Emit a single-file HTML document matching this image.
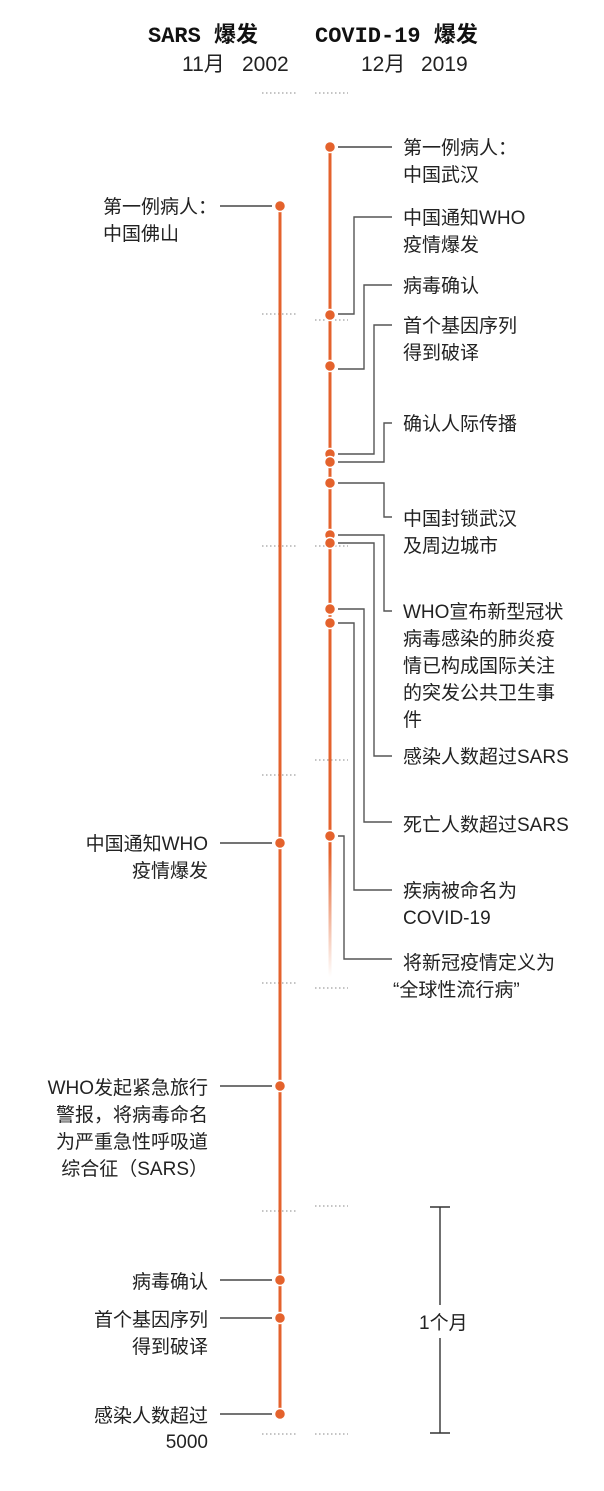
<!DOCTYPE html>
<html><head><meta charset="utf-8"><style>
html,body{margin:0;padding:0;background:#fff}
svg{display:block}
text{font-family:"Liberation Sans","Noto Sans CJK SC",sans-serif;font-size:19px;fill:#222}
.t{font-family:"Liberation Mono","Noto Sans CJK SC",monospace;font-weight:bold;font-size:22px;fill:#111}
.dt{font-size:21px}
.r{text-anchor:end}
.d{stroke:#888;stroke-width:1;stroke-dasharray:1.5 2.5}
.c{fill:none;stroke:#555;stroke-width:1.4}
</style></head><body>
<svg width="604" height="1491" viewBox="0 0 604 1491">
<defs><linearGradient id="fade" x1="0" y1="0" x2="0" y2="1">
<stop offset="0.85" stop-color="#e4622c"/><stop offset="1" stop-color="#e4622c" stop-opacity="0"/></linearGradient></defs>
<text class="t" x="148" y="42">SARS 爆发</text>
<text class="t" x="315" y="42">COVID-19 爆发</text>
<text class="dt" x="182" y="71">11月</text><text class="dt" x="242" y="71">2002</text>
<text class="dt" x="361" y="71">12月</text><text class="dt" x="421" y="71">2019</text>
<g class="d">
<line x1="262" y1="93" x2="297" y2="93"/><line x1="315" y1="93" x2="348" y2="93"/>
<line x1="262" y1="314" x2="297" y2="314"/><line x1="315" y1="320" x2="348" y2="320"/>
<line x1="262" y1="546" x2="297" y2="546"/><line x1="315" y1="546" x2="348" y2="546"/>
<line x1="262" y1="775" x2="297" y2="775"/><line x1="315" y1="760" x2="348" y2="760"/>
<line x1="262" y1="983" x2="297" y2="983"/><line x1="315" y1="988" x2="348" y2="988"/>
<line x1="262" y1="1211" x2="297" y2="1211"/><line x1="315" y1="1206" x2="348" y2="1206"/>
<line x1="262" y1="1434" x2="297" y2="1434"/><line x1="315" y1="1434" x2="348" y2="1434"/>
</g>
<line x1="280" y1="206" x2="280" y2="1414" stroke="#e4622c" stroke-width="3"/>
<rect x="328.5" y="147" width="3" height="830" fill="url(#fade)"/>
<g stroke="#222" stroke-width="1.2">
<line x1="220" y1="206" x2="272" y2="206"/>
<line x1="220" y1="843" x2="272" y2="843"/>
<line x1="220" y1="1086" x2="272" y2="1086"/>
<line x1="220" y1="1280" x2="272" y2="1280"/>
<line x1="220" y1="1318" x2="272" y2="1318"/>
<line x1="220" y1="1414" x2="272" y2="1414"/>
</g>
<line x1="338" y1="147" x2="392" y2="147" stroke="#222" stroke-width="1.2"/>
<polyline class="c" points="392,217 354,217 354,314 338,314"/>
<polyline class="c" points="392,285 364,285 364,369 338,369"/>
<polyline class="c" points="392,325 374,325 374,454 338,454"/>
<polyline class="c" points="392,423 384,423 384,462 338,462"/>
<polyline class="c" points="338,483 384,483 384,517 392,517"/>
<polyline class="c" points="338,535 384,535 384,611 392,611"/>
<polyline class="c" points="338,543 374,543 374,756 392,756"/>
<polyline class="c" points="338,609 364,609 364,822 392,822"/>
<polyline class="c" points="338,623 354,623 354,890 392,890"/>
<polyline class="c" points="338,836 344,836 344,959 392,959"/>
<g fill="#e4622c" stroke="#fff" stroke-width="1.5">
<circle cx="280" cy="206" r="5.5"/><circle cx="280" cy="843" r="5.5"/><circle cx="280" cy="1086" r="5.5"/>
<circle cx="280" cy="1280" r="5.5"/><circle cx="280" cy="1318" r="5.5"/><circle cx="280" cy="1414" r="5.5"/>
<circle cx="330" cy="147" r="5.5"/><circle cx="330" cy="315" r="5.5"/><circle cx="330" cy="366" r="5.5"/>
<circle cx="330" cy="454" r="5.5"/><circle cx="330" cy="462" r="5.5"/><circle cx="330" cy="483" r="5.5"/>
<circle cx="330" cy="535" r="5.5"/><circle cx="330" cy="543" r="5.5"/><circle cx="330" cy="609" r="5.5"/>
<circle cx="330" cy="623" r="5.5"/><circle cx="330" cy="836" r="5.5"/>
</g>
<text x="403" y="154">第一例病人：</text><text x="403" y="181">中国武汉</text>
<text x="403" y="224">中国通知WHO</text><text x="403" y="251">疫情爆发</text>
<text x="403" y="292">病毒确认</text>
<text x="403" y="332">首个基因序列</text><text x="403" y="359">得到破译</text>
<text x="403" y="430">确认人际传播</text>
<text x="403" y="525">中国封锁武汉</text><text x="403" y="552">及周边城市</text>
<text x="403" y="618">WHO宣布新型冠状</text><text x="403" y="645">病毒感染的肺炎疫</text><text x="403" y="672">情已构成国际关注</text><text x="403" y="699">的突发公共卫生事</text><text x="403" y="726">件</text>
<text x="403" y="763">感染人数超过SARS</text>
<text x="403" y="831">死亡人数超过SARS</text>
<text x="403" y="897">疾病被命名为</text><text x="403" y="924">COVID-19</text>
<text x="403" y="969">将新冠疫情定义为</text><text x="393" y="996">“全球性流行病”</text>
<text x="103" y="213">第一例病人：</text><text x="103" y="240">中国佛山</text>
<text class="r" x="208" y="850">中国通知WHO</text><text class="r" x="208" y="877">疫情爆发</text>
<text class="r" x="208" y="1094">WHO发起紧急旅行</text><text class="r" x="208" y="1121">警报，将病毒命名</text><text class="r" x="208" y="1148">为严重急性呼吸道</text><text class="r" x="208" y="1175">综合征（SARS）</text>
<text class="r" x="208" y="1288">病毒确认</text>
<text class="r" x="208" y="1326">首个基因序列</text><text class="r" x="208" y="1353">得到破译</text>
<text class="r" x="208" y="1422">感染人数超过</text><text class="r" x="208" y="1448">5000</text>
<g stroke="#333" stroke-width="1.4">
<line x1="430" y1="1207" x2="450" y2="1207"/><line x1="430" y1="1433" x2="450" y2="1433"/>
<line x1="440" y1="1207" x2="440" y2="1305"/><line x1="440" y1="1338" x2="440" y2="1433"/>
</g>
<text x="419" y="1329">1个月</text>
</svg>
</body></html>
